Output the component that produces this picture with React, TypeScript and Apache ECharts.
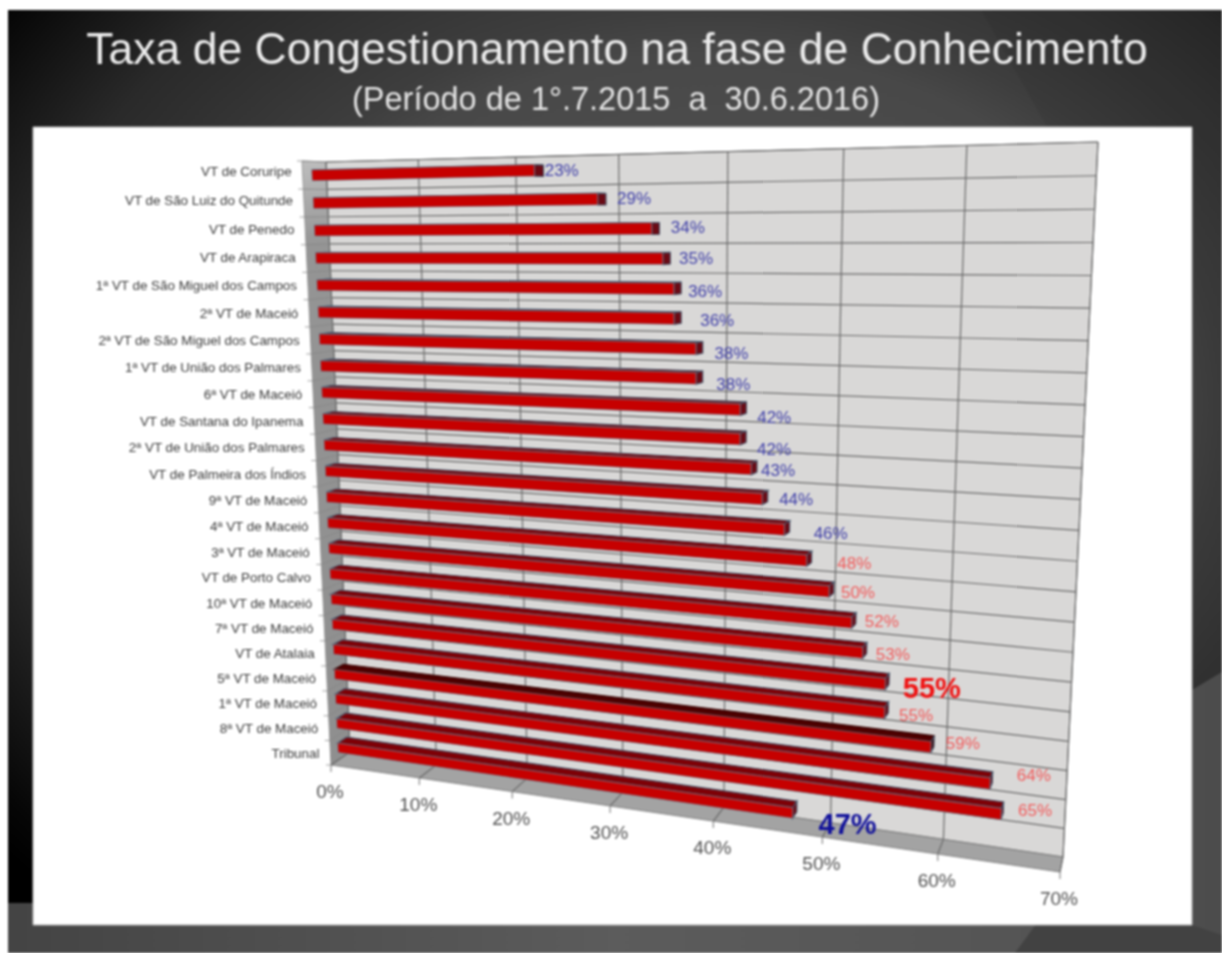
import React, { useEffect, useRef } from "react";
import * as echarts from "echarts";

const categories = [
  "VT de Coruripe", "VT de São Luiz do Quitunde", "VT de Penedo", "VT de Arapiraca",
  "1ª VT de São Miguel dos Campos", "2ª VT de Maceió", "2ª VT de São Miguel dos Campos",
  "1ª VT de União dos Palmares", "6ª VT de Maceió", "VT de Santana do Ipanema",
  "2ª VT de União dos Palmares", "VT de Palmeira dos Índios", "9ª VT de Maceió",
  "4ª VT de Maceió", "3ª VT de Maceió", "VT de Porto Calvo", "10ª VT de Maceió",
  "7ª VT de Maceió", "VT de Atalaia", "5ª VT de Maceió", "1ª VT de Maceió",
  "8ª VT de Maceió", "Tribunal",
];
const values = [23, 29, 34, 35, 36, 36, 38, 38, 42, 42, 43, 44, 46, 48, 50, 52, 53, 55, 55, 59, 64, 65, 47];
const xTicks = [0, 10, 20, 30, 40, 50, 60, 70];

// The value labels were placed by hand in the original: small per-label adjustments.
const labelNudges: [number, number][] = [
  [-1, -2], [7, -3], [6, -3], [3, -2], [1, 1], [13, 1], [5, 4], [7, 6], [3, 8], [3, 11], [-4, 2], [3, 1],
  [15, 5], [16, 4], [-3, 3], [-2, 1], [-2, 4], [-7, 0], [-1, 6], [-1, 0], [10, -4], [0, 0], [1, 8],
];

const GRID = { left: 300, top: 150, width: 700, height: 690 };
type Pt = [number, number];

function homography(q: Pt[]) {
  const [p0, p1, p2, p3] = q; // (0,0) (1,0) (1,1) (0,1)
  const dx1 = p1[0] - p2[0], dx2 = p3[0] - p2[0], sx = p0[0] - p1[0] + p2[0] - p3[0];
  const dy1 = p1[1] - p2[1], dy2 = p3[1] - p2[1], sy = p0[1] - p1[1] + p2[1] - p3[1];
  const den = dx1 * dy2 - dx2 * dy1;
  const g = (sx * dy2 - dx2 * sy) / den;
  const h = (dx1 * sy - sx * dy1) / den;
  const a = p1[0] - p0[0] + g * p1[0], b = p3[0] - p0[0] + h * p3[0], c = p0[0];
  const d = p1[1] - p0[1] + g * p1[1], e = p3[1] - p0[1] + h * p3[1], f = p0[1];
  return (u: number, v: number): Pt => {
    const w = g * u + h * v + 1;
    return [(a * u + b * v + c) / w, (d * u + e * v + f) / w];
  };
}
const back = homography([[326, 162], [1098, 142], [1063, 857], [350, 752]]);
const front = homography([[302, 161], [1090, 140], [1060, 872], [331, 765]]);
// Screen point of a grid pixel at depth w (0 = front of the floor, 1 = back wall).
function project(px: number, py: number, w: number): Pt {
  const u = (px - GRID.left) / GRID.width;
  const v = (py - GRID.top) / GRID.height;
  const f = front(u, v), b = back(u, v);
  return [f[0] + (b[0] - f[0]) * w, f[1] + (b[1] - f[1]) * w];
}
const W0 = 0.39, W1 = 0.86, BAR = 0.39, LABEL_W = 0.82;
const AX = "#696969";

function line(a: Pt, b: Pt, stroke: string, lineWidth = 1.2) {
  return { type: "line", shape: { x1: a[0], y1: a[1], x2: b[0], y2: b[1] }, style: { stroke, lineWidth, fill: "none" } };
}
function poly(points: Pt[], fill: any, stroke = "none", lineWidth = 0) {
  return { type: "polygon", shape: { points }, style: { fill, stroke, lineWidth } };
}

function renderFrame(_: any, api: any) {
  const left = GRID.left, right = GRID.left + GRID.width, top = GRID.top, bottom = GRID.top + GRID.height;
  const ch: any[] = [];
  ch.push(poly([project(left, top, 1), project(right, top, 1), project(right, bottom, 1), project(left, bottom, 1)], "#d9d8d7", "#8a8a8a", 1));
  ch.push(poly([project(left, top, 0), project(left, top, 1), project(left, bottom, 1), project(left, bottom, 0)],
    new echarts.graphic.LinearGradient(0, 0, 0, 1, [
      { offset: 0, color: "#bdbdbd" }, { offset: 0.14, color: "#959595" }, { offset: 1, color: "#8f8f8f" },
    ]), "#8a8a8a", 0.8));
  ch.push(poly([project(left, bottom, 0), project(right, bottom, 0), project(right, bottom, 1), project(left, bottom, 1)], "#a3a3a3", "#707070", 0.8));
  const band = api.size([0, 1])[1];
  for (const t of xTicks) {
    const x = api.coord([t, categories[0]])[0];
    ch.push(line(project(x, top, 1), project(x, bottom, 1), AX));
    ch.push(line(project(x, bottom, 1), project(x, bottom, 0), AX));
    const f = project(x, bottom, 0);
    ch.push(line(f, [f[0], f[1] + 7], "#8a8a8a"));
  }
  categories.forEach((c) => {
    const y = api.coord([0, c])[1] - band / 2;
    ch.push(line(project(left, y, 1), project(right, y, 1), AX));
    ch.push(line(project(left, y, 0), project(left, y, 1), "#858585", 0.8));
    const f = project(left, y, 0);
    ch.push(line(f, [f[0] - 5, f[1]], "#8a8a8a", 0.8));
  });
  const f = project(left, bottom, 0);
  ch.push(line(f, [f[0] - 5, f[1]], "#8a8a8a", 0.8));
  return { type: "group", children: ch };
}

function renderBar(params: any, api: any) {
  const val = api.value(0), cat = api.value(1);
  const [x, yc] = api.coord([val, cat]);
  const x0 = api.coord([0, cat])[0];
  const band = api.size([0, 1])[1];
  const y0 = yc - (band * BAR) / 2, y1 = yc + (band * BAR) / 2;
  const dark = categories[cat] === "5ª VT de Maceió";
  const edge = "#46566a";
  const top = poly([project(x0, y0, W0), project(x, y0, W0), project(x, y0, W1), project(x0, y0, W1)], dark ? "#4e0000" : "#7e0006", dark ? "#330000" : edge, 1.2);
  const endF = poly([project(x, y0, W0), project(x, y0, W1), project(x, y1, W1), project(x, y1, W0)], dark ? "#3a0000" : "#6a0a14", edge, 1.1);
  const face = poly([project(x0, y0, W0), project(x, y0, W0), project(x, y1, W0), project(x0, y1, W0)], "#c60000", "#5f97aa", 0.6);
  return { type: "group", children: [top, endF, face] };
}

function renderValueLabel(params: any, api: any) {
  const val = api.value(0), cat = api.value(1);
  const [x, yc] = api.coord([val, cat]);
  const p = project(x, yc, LABEL_W);
  const name = categories[cat];
  const bigRed = name === "7ª VT de Maceió";
  const bigBlue = name === "Tribunal";
  const big = bigRed || bigBlue;
  const fill = bigBlue ? "#10109a" : bigRed ? "#f01010" : val >= 48 ? "#f25a5a" : "#3f3fa8";
  const gap = big ? 50 : 20 + (val - 23) * 0.28;
  const n = labelNudges[cat];
  return {
    type: "text",
    style: {
      text: val + "%", x: p[0] + gap + n[0], y: p[1] + (big ? 9 : 2) + n[1], fill,
      font: `${big ? "bold 29px" : "17px"} "Liberation Sans", Arial, sans-serif`,
      textAlign: "center", textVerticalAlign: "middle",
    },
  };
}

function renderCategoryLabel(params: any, api: any) {
  const cat = api.value(1);
  const [x, yc] = api.coord([0, cat]);
  const p = project(x, yc, 0);
  const lift = Math.max(0, 4 * (1 - cat / 5));
  return {
    type: "text",
    style: {
      text: categories[cat], x: p[0] - 11, y: p[1] + 0.5 - lift, fill: "#3a3a3a",
      font: `13.4px "Liberation Sans", Arial, sans-serif`,
      textAlign: "right", textVerticalAlign: "middle",
    },
  };
}

function renderTickLabel(params: any, api: any) {
  const x = api.coord([api.value(0), categories[0]])[0];
  const p = project(x, GRID.top + GRID.height, 0);
  return {
    type: "text",
    style: {
      text: api.value(0) + "%", x: p[0] - 1, y: p[1] + 26.5, fill: "#505050",
      font: `19px "Liberation Sans", Arial, sans-serif`,
      textAlign: "center", textVerticalAlign: "middle",
    },
  };
}

export default function App() {
  const ref = useRef<HTMLDivElement>(null);
  useEffect(() => {
    const chart = echarts.init(ref.current!, undefined, { renderer: "svg" });
    const base = { type: "custom", silent: true, clip: false, coordinateSystem: "cartesian2d", encode: { x: 0, y: 1 } };
    chart.setOption({
      animation: false,
      backgroundColor: "#ffffff",
      grid: { ...GRID },
      xAxis: { type: "value", min: 0, max: 70, interval: 10, show: false },
      yAxis: { type: "category", data: categories, inverse: true, show: false },
      title: [
        {
          text: "Taxa de Congestionamento na fase de Conhecimento", left: 612, top: 21, textAlign: "center",
          textStyle: { color: "#ececec", fontSize: 44.5, fontWeight: "normal", fontFamily: "Liberation Sans" },
        },
        {
          text: "(Período de 1°.7.2015\u00A0 a\u00A0 30.6.2016)", left: 611, top: 77, textAlign: "center",
          textStyle: { color: "#e4e4e4", fontSize: 32.5, fontWeight: "normal", fontFamily: "Liberation Sans" },
        },
      ],
      graphic: [
        {
          type: "rect", z: -10, silent: true, shape: { x: 8, y: 10, width: 1214, height: 943 },
          style: {
            fill: new echarts.graphic.RadialGradient(0.58, 0.42, 0.75, [
              { offset: 0, color: "#5a5a5a" }, { offset: 0.5, color: "#484848" }, { offset: 0.56, color: "#3e3e3e" },
              { offset: 0.77, color: "#2a2a2a" }, { offset: 0.95, color: "#060606" }, { offset: 1, color: "#000000" },
            ]),
          },
        },
        {
          type: "polygon", z: -9.5, silent: true,
          shape: { points: [[981, 10], [1047, 127], [1100, 300], [1100, 700], [1222, 690], [1222, 10]] },
          style: { fill: "rgba(0,0,0,0.06)" },
        },
        {
          type: "polygon", z: -9, silent: true,
          shape: { points: [[8, 903], [40, 903], [1192, 690], [1222, 672], [1222, 953], [8, 953]] },
          style: {
            fill: new echarts.graphic.LinearGradient(0, 0, 1, 0, [
              { offset: 0, color: "#444444" }, { offset: 0.5, color: "#5c5c5c" },
              { offset: 0.83, color: "#555555" }, { offset: 1, color: "#4c4c4c" },
            ]),
          },
        },
        {
          type: "polygon", z: -8.5, silent: true,
          shape: { points: [[1050, 905], [1015, 953], [1222, 953], [1222, 935], [1192, 925]] },
          style: { fill: "#424242" },
        },
        {
          type: "rect", z: -8, silent: true, shape: { x: 33, y: 127, width: 1159, height: 798 },
          style: { fill: "#ffffff", stroke: "#b8b8b8", lineWidth: 1 },
        },
      ],
      series: [
        { ...base, name: "frame", data: [[0, categories[0]]], renderItem: renderFrame, z: 2 },
        { ...base, name: "Taxa", data: values.map((v, i) => [v, categories[i]]), renderItem: renderBar, z: 3 },
        { ...base, name: "values", data: values.map((v, i) => [v, categories[i]]), renderItem: renderValueLabel, z: 4 },
        { ...base, name: "categories", data: categories.map((c) => [0, c]), renderItem: renderCategoryLabel, z: 4 },
        { ...base, name: "ticks", data: xTicks.map((t) => [t, categories[0]]), renderItem: renderTickLabel, z: 4 },
      ],
    });
    return () => chart.dispose();
  }, []);
  return <div ref={ref} style={{ position: "absolute", left: 0, top: 0, width: 1222, height: 953, filter: "blur(0.9px)" }} />;
}
